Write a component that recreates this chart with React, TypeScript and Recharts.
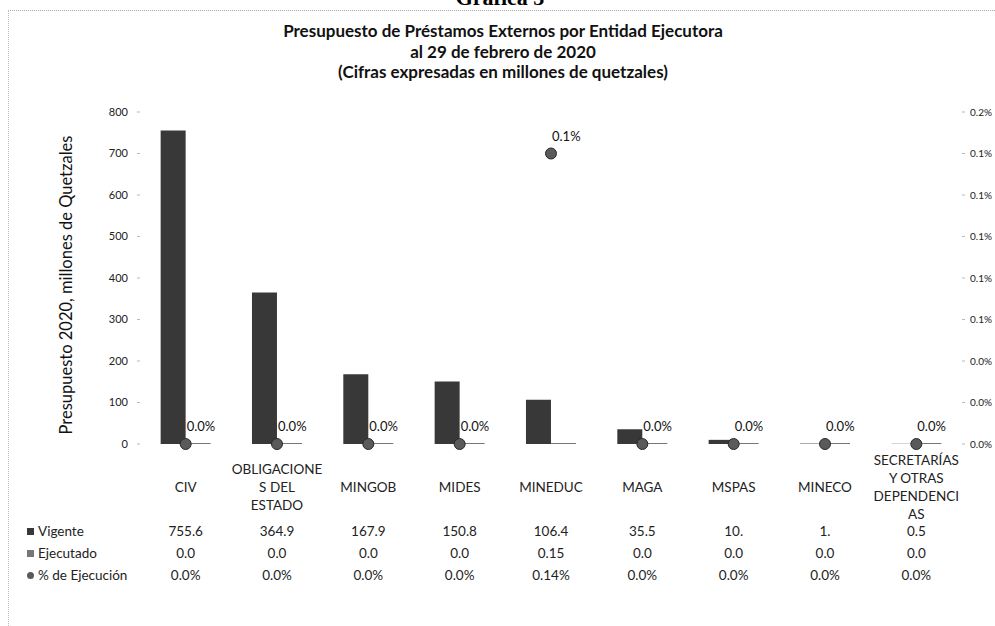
import { Bar, ComposedChart, Legend, Scatter, XAxis, YAxis } from 'recharts';

// Datos
const entidades = ['CIV', 'OBLIGACIONES DEL ESTADO', 'MINGOB', 'MIDES', 'MINEDUC', 'MAGA', 'MSPAS', 'MINECO', 'SECRETARÍAS Y OTRAS DEPENDENCIAS'];
const etiquetasEje = [
  ['CIV'],
  ['OBLIGACIONE', 'S DEL', 'ESTADO'],
  ['MINGOB'],
  ['MIDES'],
  ['MINEDUC'],
  ['MAGA'],
  ['MSPAS'],
  ['MINECO'],
  ['SECRETARÍAS', 'Y OTRAS', 'DEPENDENCI', 'AS'],
];
const vigente = [755.6, 364.9, 167.9, 150.8, 106.4, 35.5, 10.0, 1.0, 0.5];
const ejecutado = [0, 0, 0, 0, 0.15, 0, 0, 0, 0];
const pctEjecucion = [0, 0, 0, 0, 0.14, 0, 0, 0, 0];
const vigenteTabla = ['755.6', '364.9', '167.9', '150.8', '106.4', '35.5', '10.', '1.', '0.5'];
const ejecutadoTabla = ['0.0', '0.0', '0.0', '0.0', '0.15', '0.0', '0.0', '0.0', '0.0'];
const pctTabla = ['0.0%', '0.0%', '0.0%', '0.0%', '0.14%', '0.0%', '0.0%', '0.0%', '0.0%'];
const ticksIzq = [0, 100, 200, 300, 400, 500, 600, 700, 800];
const ticksDer = [0, 0.02, 0.04, 0.06, 0.08, 0.1, 0.12, 0.14, 0.16];
const ordenLeyenda = ['Vigente', 'Ejecutado', '% de Ejecución'];

const data = entidades.map((nombre, i) => ({
  nombre,
  vigente: vigente[i],
  ejecutado: ejecutado[i],
  pct: pctEjecucion[i],
}));

const FONT = 'Lato, "Open Sans", sans-serif';

const TickCategoria = ({ x, y, payload }: any) => {
  const i = payload.index;
  const lineas = etiquetasEje[i];
  const alto = 18;
  const y0 = y + 43 - ((lineas.length - 1) * alto) / 2;
  return (
    <g fontFamily={FONT} fill="#222" fontSize={13.5}>
      {lineas.map((l, k) => (
        <text key={k} x={x} y={y0 + k * alto} textAnchor="middle" dominantBaseline="central">
          {l}
        </text>
      ))}
      <text x={x} y={y + 87} textAnchor="middle" dominantBaseline="central">{vigenteTabla[i]}</text>
      <text x={x} y={y + 109} textAnchor="middle" dominantBaseline="central">{ejecutadoTabla[i]}</text>
      <text x={x} y={y + 131} textAnchor="middle" dominantBaseline="central">{pctTabla[i]}</text>
    </g>
  );
};

const Punto = ({ cx, cy, payload }: any) => (
  <g>
    <circle cx={cx} cy={cy} r={5.5} fill="#5a5a5a" stroke="#2a2a2a" strokeWidth={1} />
    <text x={cx + 1} y={cy - 18} dominantBaseline="central" fontSize={13} fontFamily={FONT} fill="#111">
      {payload.pct.toFixed(1) + '%'}
    </text>
  </g>
);

const Leyenda = ({ payload }: any) => {
  const filas = [...(payload || [])].sort((a: any, b: any) => ordenLeyenda.indexOf(a.value) - ordenLeyenda.indexOf(b.value));
  return (
    <div style={{ fontFamily: FONT, fontSize: 13.5, color: '#222' }}>
      {filas.map((e: any) => (
        <div key={e.value} style={{ height: 22, display: 'flex', alignItems: 'center' }}>
          <span
            style={{
              display: 'inline-block',
              width: 7,
              height: 7,
              marginRight: 4,
              background: e.color,
              borderRadius: e.type === 'circle' ? '50%' : 0,
            }}
          />
          {e.value}
        </div>
      ))}
    </div>
  );
};

export default function App() {
  return (
    <div style={{ position: 'absolute', left: 0, top: 0, width: 995, height: 626, overflow: 'hidden', background: '#fff' }}>
      <div style={{ position: 'absolute', left: 8, top: 10, right: 0, bottom: 0, borderTop: '1px dotted #aaa', borderLeft: '1px dotted #bbb' }} />
      <div style={{ position: 'absolute', left: 0, width: 1000, top: -13, textAlign: 'center', fontFamily: '"Liberation Serif", serif', fontWeight: 'bold', fontSize: 22, lineHeight: '22px' }}>
        Gráfica 3
      </div>
      <div style={{ position: 'absolute', left: 0, width: 1006, top: 21, textAlign: 'center', fontFamily: FONT, fontWeight: 'bold', fontSize: 17, lineHeight: '20.5px', color: '#111' }}>
        <div>Presupuesto de Préstamos Externos por Entidad Ejecutora</div>
        <div>al 29 de febrero de 2020</div>
        <div>(Cifras expresadas en millones de quetzales)</div>
      </div>
      <ComposedChart
        width={995}
        height={626}
        data={data}
        margin={{ top: 112, right: 0, bottom: 0, left: 0 }}
        barCategoryGap="22.6%"
        barGap={0}
        style={{ position: 'absolute', left: 0, top: 0 }}
      >
        <XAxis dataKey="nombre" height={182} tickLine={false} axisLine={false} tickSize={0} tickMargin={0} tick={<TickCategoria />} interval={0} />
        <YAxis
          yAxisId="izq"
          width={140}
          domain={[0, 800]}
          ticks={ticksIzq}
          axisLine={false}
          tickLine={{ stroke: '#bbb' }}
          tickSize={3}
          tickMargin={9}
          tick={{ fontSize: 11, fill: '#222', fontFamily: FONT }}
          label={{
            content: () => (
              <text
                x={66}
                y={285}
                transform="rotate(-90, 66, 285)"
                textAnchor="middle"
                dominantBaseline="central"
                fontSize={16.5}
                fontFamily={FONT}
                fill="#111"
              >
                Presupuesto 2020, millones de Quetzales
              </text>
            ),
          }}
        />
        <YAxis
          yAxisId="der"
          orientation="right"
          width={33}
          domain={[0, 0.16]}
          ticks={ticksDer}
          axisLine={false}
          tickLine={{ stroke: '#bbb' }}
          tickSize={3}
          tickMargin={5}
          tickFormatter={(v: number) => v.toFixed(1) + '%'}
          tick={{ fontSize: 10, fill: '#222', fontFamily: FONT }}
        />
        <Bar yAxisId="izq" dataKey="vigente" name="Vigente" fill="#383838" legendType="square" isAnimationActive={false} />
        <Bar yAxisId="izq" dataKey="ejecutado" name="Ejecutado" fill="#777" minPointSize={1} legendType="square" isAnimationActive={false} />
        <Scatter yAxisId="der" dataKey="pct" name="% de Ejecución" fill="#5a5a5a" shape={<Punto />} legendType="circle" isAnimationActive={false} />
        <Legend
          layout="horizontal"
          verticalAlign="middle"
          align="center"
          wrapperStyle={{ left: 27, top: 520, width: 'auto' }}
          content={<Leyenda />}
        />
      </ComposedChart>
    </div>
  );
}
